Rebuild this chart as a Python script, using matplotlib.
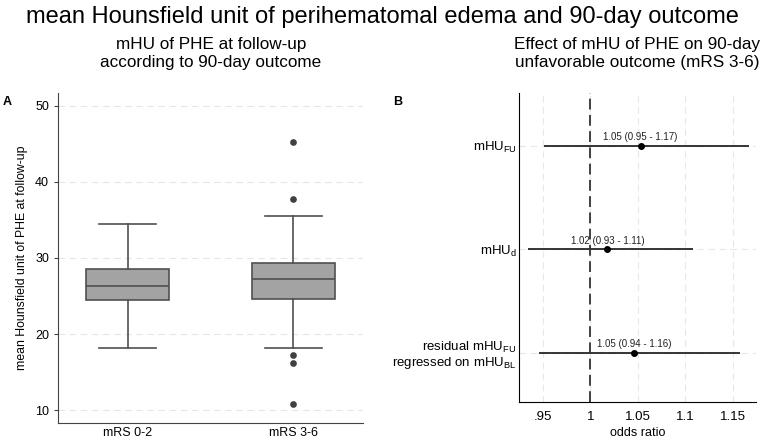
import matplotlib.pyplot as plt
import numpy as np

plt.rcParams['font.family'] = ['Liberation Sans', 'DejaVu Sans']
plt.rcParams['mathtext.fontset'] = 'custom'
plt.rcParams['mathtext.rm'] = 'Liberation Sans'

# ---- panel A: box plot summary values ----
groups = ["mRS 0-2", "mRS 3-6"]
q1 = [24.5, 24.6]
med = [26.3, 27.2]
q3 = [28.6, 29.3]
whislo = [18.2, 18.2]
whishi = [34.5, 35.5]
fliers = [[], [45.2, 37.8, 17.2, 16.2, 10.8]]

# ---- panel B: odds ratios ----
predictors = [r"mHU$_{\mathrm{FU}}$", r"mHU$_{\mathrm{d}}$",
              "residual mHU$_{\\mathrm{FU}}$\nregressed on mHU$_{\\mathrm{BL}}$"]
odds = [1.053, 1.018, 1.046]
ci_lo = [0.951, 0.935, 0.946]
ci_hi = [1.167, 1.108, 1.158]
or_text = ["1.05 (0.95 - 1.17)", "1.02 (0.93 - 1.11)", "1.05 (0.94 - 1.16)"]

W, H = 764, 438
fig = plt.figure(figsize=(W / 100, H / 100), dpi=100)

def px_axes(x0, y0, x1, y1):
    return fig.add_axes([x0 / W, 1 - y1 / H, (x1 - x0) / W, (y1 - y0) / H])

fig.text(0.5, 1 - 17 / H, "mean Hounsfield unit of perihematomal edema and 90-day outcome",
         ha="center", va="center", fontsize=17)

# ---- A ----
axA = px_axes(58, 93, 363, 423)
stats = []
for i in range(len(groups)):
    stats.append(dict(med=med[i], q1=q1[i], q3=q3[i], whislo=whislo[i],
                      whishi=whishi[i], fliers=fliers[i], label=groups[i]))
axA.bxp(stats, positions=[1, 2], widths=0.5, capwidths=0.34, patch_artist=True,
        boxprops=dict(facecolor="#a3a3a3", edgecolor="#505050", linewidth=1.2),
        medianprops=dict(color="#505050", linewidth=1.2),
        whiskerprops=dict(color="#505050", linewidth=1.2),
        capprops=dict(color="#505050", linewidth=1.2),
        flierprops=dict(marker="o", markersize=3.8, markerfacecolor="#404040",
                        markeredgecolor="#404040"))
axA.set_xlim(0.58, 2.42)
axA.set_ylim(8.3, 51.7)
axA.set_yticks([10, 20, 30, 40, 50])
axA.yaxis.grid(True, linestyle=(0, (6, 4)), color="#e6e6e6", linewidth=0.8)
axA.set_axisbelow(True)
axA.tick_params(axis="x", length=0, labelsize=9, pad=3)
axA.tick_params(axis="y", length=3, labelsize=9, color="#444444")
for s in ["top", "right"]:
    axA.spines[s].set_visible(False)
for s in ["left", "bottom"]:
    axA.spines[s].set_color("#444444")
axA.set_ylabel("mean Hounsfield unit of PHE at follow-up", fontsize=8.8, labelpad=5)

fig.text(211 / W, 1 - 45 / H, "mHU of PHE at follow-up", ha="center", va="center", fontsize=12.3)
fig.text(211 / W, 1 - 63 / H, "according to 90-day outcome", ha="center", va="center", fontsize=12.3)
fig.text(3 / W, 1 - 102 / H, "A", fontsize=9, fontweight="bold", va="center")

# ---- B ----
axB = px_axes(519.3, 93, 755.7, 402.3)
ypos = np.arange(len(predictors), 0, -1)
axB.hlines(ypos, ci_lo, ci_hi, color="black", linewidth=1.1)
axB.plot(odds, ypos, "o", color="black", markersize=4)
for x, y, t in zip(odds, ypos, or_text):
    axB.annotate(t, (x, y), xytext=(0, 2.5), textcoords="offset points",
                 ha="center", va="bottom", fontsize=7, color="#222222")
axB.axvline(1, color="#333333", linestyle=(0, (6, 3)), linewidth=1.3)
axB.set_xlim(0.9254, 1.174)
axB.set_ylim(0.52, 3.51)
axB.set_xticks([0.95, 1, 1.05, 1.1, 1.15])
axB.set_xticklabels([".95", "1", "1.05", "1.1", "1.15"])
axB.set_yticks(ypos)
axB.set_yticklabels(predictors, ha="right", linespacing=1.0)
axB.grid(True, linestyle=(0, (6, 4)), color="#e8e8e8", linewidth=0.8)
axB.set_axisbelow(True)
axB.tick_params(axis="x", length=0, labelsize=9.5, pad=6)
axB.tick_params(axis="y", length=0, labelsize=9.5, pad=2)
for s in ["top", "right"]:
    axB.spines[s].set_visible(False)
axB.set_xlabel("odds ratio", fontsize=9, labelpad=3)

fig.text(637 / W, 1 - 45 / H, "Effect of mHU of PHE on 90-day", ha="center", va="center", fontsize=12.3)
fig.text(637 / W, 1 - 63 / H, "unfavorable outcome (mRS 3-6)", ha="center", va="center", fontsize=12.3)
fig.text(393 / W, 1 - 102 / H, "B", fontsize=9, fontweight="bold", va="center")

fig.savefig("out.png", dpi=100)
